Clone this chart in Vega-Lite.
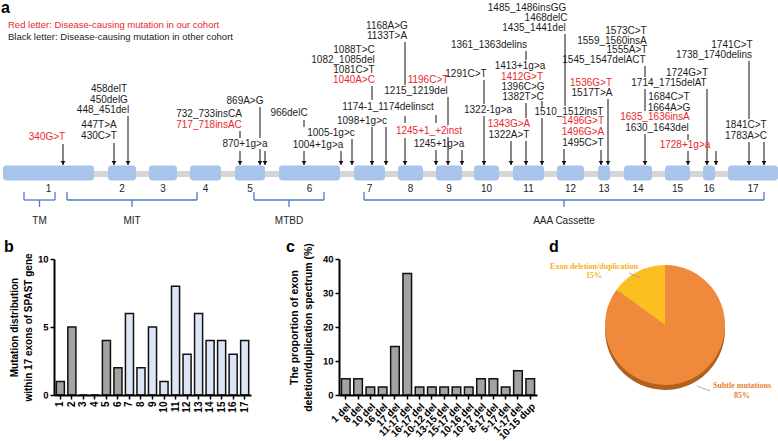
{
  "$schema": "https://vega.github.io/schema/vega-lite/v6.json",
  "padding": 0,
  "background": "white",
  "spacing": 4,
  "bounds": "flush",
  "config": {
    "view": {"stroke": null},
    "font": "Liberation Sans"
  },
  "datasets": {
    "backbone": [{"from": 2, "to": 777}],
    "exons": [
      {"exon": "1", "start": 2, "end": 93, "mid": 47.5},
      {"exon": "2", "start": 107, "end": 135, "mid": 121},
      {"exon": "3", "start": 148, "end": 176, "mid": 162},
      {"exon": "4", "start": 189, "end": 220, "mid": 204.5},
      {"exon": "5", "start": 234, "end": 264, "mid": 249},
      {"exon": "6", "start": 278, "end": 339, "mid": 308.5},
      {"exon": "7", "start": 353, "end": 384, "mid": 368.5},
      {"exon": "8", "start": 397, "end": 422, "mid": 409.5},
      {"exon": "9", "start": 435, "end": 461, "mid": 448},
      {"exon": "10", "start": 473, "end": 498, "mid": 485.5},
      {"exon": "11", "start": 512, "end": 543, "mid": 527.5},
      {"exon": "12", "start": 556, "end": 583, "mid": 569.5},
      {"exon": "13", "start": 597, "end": 609, "mid": 603},
      {"exon": "14", "start": 623, "end": 651, "mid": 637},
      {"exon": "15", "start": 664, "end": 689, "mid": 676.5},
      {"exon": "16", "start": 702, "end": 714, "mid": 708},
      {"exon": "17", "start": 727, "end": 777, "mid": 752}
    ],
    "braces": [
      {"domain": "TM", "start": 23, "end": 54, "mid": 38.5},
      {"domain": "MIT", "start": 66, "end": 196, "mid": 131},
      {"domain": "MTBD", "start": 253, "end": 323, "mid": 288},
      {"domain": "AAA Cassette", "start": 363, "end": 763, "mid": 563}
    ],
    "muts": [
      {"label": "340G>T", "pos": 46, "level": 134, "cohort": "ours"},
      {"label": "458delT", "pos": 108, "level": 86, "cohort": "other"},
      {"label": "450delG", "pos": 108, "level": 97, "cohort": "other"},
      {"label": "448_451del", "pos": 102, "level": 107, "cohort": "other"},
      {"label": "447T>A", "pos": 98, "level": 122, "cohort": "other"},
      {"label": "430C>T", "pos": 98, "level": 133, "cohort": "other"},
      {"label": "869A>G", "pos": 244, "level": 98, "cohort": "other"},
      {"label": "732_733insCA", "pos": 208, "level": 111, "cohort": "other"},
      {"label": "717_718insAC", "pos": 208, "level": 122, "cohort": "ours"},
      {"label": "870+1g>a", "pos": 244, "level": 141, "cohort": "other"},
      {"label": "966delC", "pos": 288, "level": 110, "cohort": "other"},
      {"label": "1005-1g>c", "pos": 330, "level": 130, "cohort": "other"},
      {"label": "1004+1g>a", "pos": 317, "level": 142, "cohort": "other"},
      {"label": "1088T>C", "pos": 353, "level": 47, "cohort": "other"},
      {"label": "1082_1085del", "pos": 342, "level": 57, "cohort": "other"},
      {"label": "1081C>T", "pos": 353, "level": 67, "cohort": "other"},
      {"label": "1040A>C", "pos": 353, "level": 77, "cohort": "ours"},
      {"label": "1174-1_1174delinsct", "pos": 387, "level": 104, "cohort": "other"},
      {"label": "1098+1g>c", "pos": 361, "level": 118, "cohort": "other"},
      {"label": "1168A>G", "pos": 386, "level": 23, "cohort": "other"},
      {"label": "1133T>A", "pos": 386, "level": 33, "cohort": "other"},
      {"label": "1196C>T", "pos": 427, "level": 77, "cohort": "ours"},
      {"label": "1215_1219del", "pos": 415, "level": 88, "cohort": "other"},
      {"label": "1245+1_+2inst", "pos": 428, "level": 128, "cohort": "ours"},
      {"label": "1245+1g>a", "pos": 438, "level": 141, "cohort": "other"},
      {"label": "1361_1363delins", "pos": 488, "level": 42, "cohort": "other"},
      {"label": "1291C>T", "pos": 465, "level": 71, "cohort": "other"},
      {"label": "1322-1g>a", "pos": 487, "level": 107, "cohort": "other"},
      {"label": "1413+1g>a", "pos": 519, "level": 63, "cohort": "other"},
      {"label": "1412G>T", "pos": 521, "level": 74, "cohort": "ours"},
      {"label": "1396C>G", "pos": 522, "level": 84, "cohort": "other"},
      {"label": "1382T>C", "pos": 522, "level": 94, "cohort": "other"},
      {"label": "1343G>A", "pos": 508, "level": 121, "cohort": "ours"},
      {"label": "1322A>T", "pos": 508, "level": 132, "cohort": "other"},
      {"label": "1485_1486insGG", "pos": 526, "level": 5, "cohort": "other"},
      {"label": "1468delC", "pos": 545, "level": 15, "cohort": "other"},
      {"label": "1435_1441del", "pos": 533, "level": 25, "cohort": "other"},
      {"label": "1510_1512insT", "pos": 568, "level": 109, "cohort": "other"},
      {"label": "1496G>T", "pos": 582, "level": 118, "cohort": "ours"},
      {"label": "1496G>A", "pos": 582, "level": 129, "cohort": "ours"},
      {"label": "1495C>T", "pos": 582, "level": 140, "cohort": "other"},
      {"label": "1536G>T", "pos": 590, "level": 80, "cohort": "ours"},
      {"label": "1517T>A", "pos": 591, "level": 90, "cohort": "other"},
      {"label": "1573C>T", "pos": 625, "level": 28, "cohort": "other"},
      {"label": "1559_1560insA", "pos": 611, "level": 38, "cohort": "other"},
      {"label": "1555A>T", "pos": 626, "level": 47, "cohort": "other"},
      {"label": "1545_1547delACT", "pos": 603, "level": 57, "cohort": "other"},
      {"label": "1724G>T", "pos": 686, "level": 70, "cohort": "other"},
      {"label": "1714_1715delAT", "pos": 668, "level": 80, "cohort": "other"},
      {"label": "1684C>T", "pos": 668, "level": 94, "cohort": "other"},
      {"label": "1664A>G", "pos": 668, "level": 105, "cohort": "other"},
      {"label": "1635_1636insA", "pos": 654, "level": 114, "cohort": "ours"},
      {"label": "1630_1643del", "pos": 656, "level": 125, "cohort": "other"},
      {"label": "1728+1g>a", "pos": 684, "level": 142, "cohort": "ours"},
      {"label": "1741C>T", "pos": 731, "level": 42, "cohort": "other"},
      {"label": "1738_1740delins", "pos": 713, "level": 52, "cohort": "other"},
      {"label": "1841C>T", "pos": 745, "level": 122, "cohort": "other"},
      {"label": "1783A>C", "pos": 745, "level": 133, "cohort": "other"}
    ],
    "lines": [
      {"pos": 62, "top": 141, "bottom": 162, "arrow": true},
      {"pos": 113, "top": 140, "bottom": 162, "arrow": true},
      {"pos": 127, "top": 113, "bottom": 162, "arrow": true},
      {"pos": 239, "top": 128, "bottom": 135, "arrow": false},
      {"pos": 239, "top": 148, "bottom": 162, "arrow": true},
      {"pos": 259, "top": 104, "bottom": 135, "arrow": false},
      {"pos": 259, "top": 146, "bottom": 162, "arrow": true},
      {"pos": 264, "top": 148, "bottom": 162, "arrow": true},
      {"pos": 303, "top": 117, "bottom": 124, "arrow": false},
      {"pos": 303, "top": 148, "bottom": 162, "arrow": true},
      {"pos": 340, "top": 148, "bottom": 162, "arrow": true},
      {"pos": 351, "top": 136, "bottom": 162, "arrow": true},
      {"pos": 371, "top": 83, "bottom": 97, "arrow": false},
      {"pos": 371, "top": 124, "bottom": 162, "arrow": true},
      {"pos": 385, "top": 124, "bottom": 162, "arrow": true},
      {"pos": 404, "top": 39, "bottom": 82, "arrow": false},
      {"pos": 404, "top": 113, "bottom": 120, "arrow": false},
      {"pos": 404, "top": 135, "bottom": 162, "arrow": true},
      {"pos": 435, "top": 112, "bottom": 120, "arrow": false},
      {"pos": 435, "top": 147, "bottom": 162, "arrow": true},
      {"pos": 447, "top": 94, "bottom": 122, "arrow": false},
      {"pos": 447, "top": 134, "bottom": 162, "arrow": true},
      {"pos": 461, "top": 147, "bottom": 162, "arrow": true},
      {"pos": 483, "top": 77, "bottom": 101, "arrow": false},
      {"pos": 483, "top": 113, "bottom": 162, "arrow": true},
      {"pos": 525, "top": 48, "bottom": 57, "arrow": false},
      {"pos": 525, "top": 100, "bottom": 115, "arrow": false},
      {"pos": 525, "top": 138, "bottom": 162, "arrow": true},
      {"pos": 510, "top": 138, "bottom": 162, "arrow": true},
      {"pos": 541, "top": 98, "bottom": 104, "arrow": false},
      {"pos": 541, "top": 115, "bottom": 162, "arrow": true},
      {"pos": 564, "top": 31, "bottom": 103, "arrow": false},
      {"pos": 563, "top": 146, "bottom": 162, "arrow": true},
      {"pos": 600, "top": 147, "bottom": 162, "arrow": true},
      {"pos": 607, "top": 96, "bottom": 162, "arrow": true},
      {"pos": 644, "top": 63, "bottom": 74, "arrow": false},
      {"pos": 644, "top": 86, "bottom": 108, "arrow": false},
      {"pos": 644, "top": 131, "bottom": 162, "arrow": true},
      {"pos": 687, "top": 131, "bottom": 137, "arrow": false},
      {"pos": 687, "top": 148, "bottom": 162, "arrow": true},
      {"pos": 706, "top": 86, "bottom": 162, "arrow": true},
      {"pos": 715, "top": 148, "bottom": 162, "arrow": true},
      {"pos": 748, "top": 58, "bottom": 116, "arrow": false},
      {"pos": 748, "top": 139, "bottom": 162, "arrow": true},
      {"pos": 763, "top": 139, "bottom": 162, "arrow": true}
    ],
    "notes": [
      {"label": "Red letter: Disease-causing mutation in our cohort", "pos": 7, "level": 22, "cohort": "ours"},
      {"label": "Black letter: Disease-causing mutation in other cohort", "pos": 7, "level": 34, "cohort": "other"}
    ],
    "letters": [
      {"letter": "a", "pos": 0, "level": 10},
      {"letter": "b", "pos": 3, "level": 249},
      {"letter": "c", "pos": 285, "level": 249},
      {"letter": "d", "pos": 548, "level": 249}
    ],
    "exonCounts": [
      {"exon": "1", "count": 1, "region": "N-terminal"},
      {"exon": "2", "count": 5, "region": "N-terminal"},
      {"exon": "3", "count": 0, "region": "N-terminal"},
      {"exon": "4", "count": 0, "region": "N-terminal"},
      {"exon": "5", "count": 4, "region": "N-terminal"},
      {"exon": "6", "count": 2, "region": "N-terminal"},
      {"exon": "7", "count": 6, "region": "AAA"},
      {"exon": "8", "count": 2, "region": "AAA"},
      {"exon": "9", "count": 5, "region": "AAA"},
      {"exon": "10", "count": 1, "region": "AAA"},
      {"exon": "11", "count": 8, "region": "AAA"},
      {"exon": "12", "count": 3, "region": "AAA"},
      {"exon": "13", "count": 6, "region": "AAA"},
      {"exon": "14", "count": 4, "region": "AAA"},
      {"exon": "15", "count": 4, "region": "AAA"},
      {"exon": "16", "count": 3, "region": "AAA"},
      {"exon": "17", "count": 4, "region": "AAA"}
    ],
    "cnv": [
      {"type": "1 del", "pct": 4.76},
      {"type": "8 del", "pct": 4.76},
      {"type": "10 del", "pct": 2.38},
      {"type": "16 del", "pct": 2.38},
      {"type": "17 del", "pct": 14.29},
      {"type": "11-17 del", "pct": 35.71},
      {"type": "16-17 del", "pct": 2.38},
      {"type": "10-12 del", "pct": 2.38},
      {"type": "13-15 del", "pct": 2.38},
      {"type": "15-17 del", "pct": 2.38},
      {"type": "10-16 del", "pct": 2.38},
      {"type": "10-17 del", "pct": 4.76},
      {"type": "8-17 del", "pct": 4.76},
      {"type": "5-17 del", "pct": 2.38},
      {"type": "1-17 del", "pct": 7.14},
      {"type": "10-15 dup", "pct": 4.76}
    ],
    "pie": [
      {"cat": "Subtle mutations", "pct": 85, "ord": 1},
      {"cat": "Exon deletion/duplication", "pct": 15, "ord": 2}
    ],
    "pieLabels": [
      {"label": "Exon deletion/duplication", "px": -71, "py": 58, "cat": "Exon deletion/duplication"},
      {"label": "15%", "px": -71, "py": 49, "cat": "Exon deletion/duplication"},
      {"label": "Subtle mutations", "px": 77, "py": -61, "cat": "Subtle mutations"},
      {"label": "85%", "px": 77, "py": -71, "cat": "Subtle mutations"}
    ],
    "leaders": [
      {"x1": -36, "y1": 52, "x2": -25, "y2": 47},
      {"x1": 32, "y1": -61, "x2": 45, "y2": -66}
    ]
  },
  "vconcat": [
    {
      "width": 725,
      "height": 252,
      "layer": [
        {
          "data": {"name": "backbone"},
          "mark": {"type": "rule", "strokeWidth": 6, "color": "#d5d5d5"},
          "encoding": {
            "x": {"field": "from", "type": "quantitative", "scale": {"domain": [53, 778], "nice": false, "zero": false}, "axis": null},
            "x2": {"field": "to"},
            "y": {"datum": 171, "type": "quantitative", "scale": {"domain": [0, 252], "nice": false, "zero": false, "reverse": true}, "axis": null}
          }
        },
        {
          "data": {"name": "exons"},
          "mark": {"type": "rect", "color": "#a9c4ea", "cornerRadius": 3},
          "encoding": {
            "x": {"field": "start", "type": "quantitative", "scale": {"domain": [53, 778], "nice": false, "zero": false}, "axis": null},
            "x2": {"field": "end"},
            "y": {"datum": 162.5, "type": "quantitative", "scale": {"domain": [0, 252], "nice": false, "zero": false, "reverse": true}, "axis": null},
            "y2": {"datum": 177.5}
          }
        },
        {
          "data": {"name": "exons"},
          "mark": {"type": "text", "fontSize": 10, "color": "#222", "baseline": "middle"},
          "encoding": {
            "x": {"field": "mid", "type": "quantitative", "scale": {"domain": [53, 778], "nice": false, "zero": false}, "axis": null},
            "y": {"datum": 186, "type": "quantitative", "scale": {"domain": [0, 252], "nice": false, "zero": false, "reverse": true}, "axis": null},
            "text": {"field": "exon"}
          }
        },
        {
          "data": {"name": "lines"},
          "mark": {"type": "rule", "strokeWidth": 1, "color": "#111"},
          "encoding": {
            "x": {"field": "pos", "type": "quantitative", "scale": {"domain": [53, 778], "nice": false, "zero": false}, "axis": null},
            "y": {"field": "top", "type": "quantitative", "scale": {"domain": [0, 252], "nice": false, "zero": false, "reverse": true}, "axis": null},
            "y2": {"field": "bottom"}
          }
        },
        {
          "data": {"name": "lines"},
          "transform": [{"filter": "datum.arrow"}],
          "mark": {"type": "point", "shape": "triangle-down", "filled": true, "size": 22, "color": "#111", "opacity": 1},
          "encoding": {
            "x": {"field": "pos", "type": "quantitative", "scale": {"domain": [53, 778], "nice": false, "zero": false}, "axis": null},
            "y": {"datum": 160, "type": "quantitative", "scale": {"domain": [0, 252], "nice": false, "zero": false, "reverse": true}, "axis": null}
          }
        },
        {
          "data": {"name": "muts"},
          "mark": {"type": "text", "fontSize": 10, "baseline": "middle", "align": "center"},
          "encoding": {
            "x": {"field": "pos", "type": "quantitative", "scale": {"domain": [53, 778], "nice": false, "zero": false}, "axis": null},
            "y": {"field": "level", "type": "quantitative", "scale": {"domain": [0, 252], "nice": false, "zero": false, "reverse": true}, "axis": null},
            "text": {"field": "label"},
            "color": {"field": "cohort", "type": "nominal", "scale": {"domain": ["ours", "other"], "range": ["#e8262d", "#1c1c1c"]}, "legend": null}
          }
        },
        {
          "data": {"name": "notes"},
          "mark": {"type": "text", "fontSize": 9.5, "baseline": "middle", "align": "left"},
          "encoding": {
            "x": {"field": "pos", "type": "quantitative", "scale": {"domain": [53, 778], "nice": false, "zero": false}, "axis": null},
            "y": {"field": "level", "type": "quantitative", "scale": {"domain": [0, 252], "nice": false, "zero": false, "reverse": true}, "axis": null},
            "text": {"field": "label"},
            "color": {"field": "cohort", "type": "nominal", "scale": {"domain": ["ours", "other"], "range": ["#e8262d", "#1c1c1c"]}, "legend": null}
          }
        },
        {
          "data": {"name": "letters"},
          "mark": {"type": "text", "fontSize": 16, "fontWeight": "bold", "baseline": "alphabetic", "align": "left", "color": "#000"},
          "encoding": {
            "x": {"field": "pos", "type": "quantitative", "scale": {"domain": [53, 778], "nice": false, "zero": false}, "axis": null},
            "y": {"field": "level", "type": "quantitative", "scale": {"domain": [0, 252], "nice": false, "zero": false, "reverse": true}, "axis": null},
            "text": {"field": "letter"}
          }
        },
        {
          "data": {"name": "braces"},
          "mark": {"type": "rule", "strokeWidth": 1.3, "color": "#4a7cc7"},
          "encoding": {
            "x": {"field": "start", "type": "quantitative", "scale": {"domain": [53, 778], "nice": false, "zero": false}, "axis": null},
            "y": {"datum": 189, "type": "quantitative", "scale": {"domain": [0, 252], "nice": false, "zero": false, "reverse": true}, "axis": null},
            "y2": {"datum": 197}
          }
        },
        {
          "data": {"name": "braces"},
          "mark": {"type": "rule", "strokeWidth": 1.3, "color": "#4a7cc7"},
          "encoding": {
            "x": {"field": "end", "type": "quantitative", "scale": {"domain": [53, 778], "nice": false, "zero": false}, "axis": null},
            "y": {"datum": 189, "type": "quantitative", "scale": {"domain": [0, 252], "nice": false, "zero": false, "reverse": true}, "axis": null},
            "y2": {"datum": 197}
          }
        },
        {
          "data": {"name": "braces"},
          "mark": {"type": "rule", "strokeWidth": 1.3, "color": "#4a7cc7"},
          "encoding": {
            "x": {"field": "start", "type": "quantitative", "scale": {"domain": [53, 778], "nice": false, "zero": false}, "axis": null},
            "x2": {"field": "end"},
            "y": {"datum": 197, "type": "quantitative", "scale": {"domain": [0, 252], "nice": false, "zero": false, "reverse": true}, "axis": null}
          }
        },
        {
          "data": {"name": "braces"},
          "mark": {"type": "rule", "strokeWidth": 1.3, "color": "#4a7cc7"},
          "encoding": {
            "x": {"field": "mid", "type": "quantitative", "scale": {"domain": [53, 778], "nice": false, "zero": false}, "axis": null},
            "y": {"datum": 197, "type": "quantitative", "scale": {"domain": [0, 252], "nice": false, "zero": false, "reverse": true}, "axis": null},
            "y2": {"datum": 204}
          }
        },
        {
          "data": {"name": "braces"},
          "mark": {"type": "text", "fontSize": 10, "color": "#222", "baseline": "middle"},
          "encoding": {
            "x": {"field": "mid", "type": "quantitative", "scale": {"domain": [53, 778], "nice": false, "zero": false}, "axis": null},
            "y": {"datum": 218, "type": "quantitative", "scale": {"domain": [0, 252], "nice": false, "zero": false, "reverse": true}, "axis": null},
            "text": {"field": "domain"}
          }
        }
      ]
    },
    {
      "spacing": 38,
      "hconcat": [
        {
          "width": 197,
          "height": 136,
          "data": {"name": "exonCounts"},
          "mark": {"type": "bar", "stroke": "#111", "strokeWidth": 1.5},
          "encoding": {
            "x": {"field": "exon", "type": "ordinal", "sort": null, "scale": {"paddingInner": 0.3, "paddingOuter": 0.2}, "axis": {"title": null, "labelAngle": -90, "labelFontSize": 10, "labelFont": "Liberation Sans", "labelFontWeight": "bold", "labelColor": "black", "labelPadding": 2, "domain": true, "domainColor": "black", "domainWidth": 2, "ticks": true, "tickColor": "black", "tickWidth": 1.5, "tickSize": 4, "grid": false, "zindex": 1}},
            "y": {"field": "count", "type": "quantitative", "scale": {"domain": [0, 10], "nice": false}, "axis": {"tickCount": 2, "labels": true, "labelAngle": 0.1, "labelFontSize": 9.5, "labelFont": "Liberation Sans", "labelFontWeight": "bold", "labelColor": "black", "labelPadding": 2, "labelOverlap": false, "domain": true, "domainColor": "black", "domainWidth": 2, "ticks": true, "tickColor": "black", "tickWidth": 1.5, "tickSize": 4, "grid": false, "zindex": 1, "title": ["Mutation distribution", "within 17 exons of SPAST gene"], "titleFont": "Liberation Sans", "titleFontWeight": "bold", "titleColor": "black", "titleFontSize": 10, "titleLineHeight": 14, "titlePadding": 4}},
            "fill": {"field": "region", "type": "nominal", "scale": {"domain": ["N-terminal", "AAA"], "range": ["#a3a3a3", "#dbe5f6"]}, "legend": null}
          }
        },
        {
          "spacing": 13,
          "hconcat": [
            {
              "width": 198,
              "height": 136,
              "data": {"name": "cnv"},
              "mark": {"type": "bar", "stroke": "#111", "strokeWidth": 1.5, "color": "#a3a3a3"},
              "encoding": {
                "x": {"field": "type", "type": "ordinal", "sort": null, "scale": {"paddingInner": 0.3, "paddingOuter": 0.2}, "axis": {"title": null, "labelAngle": -45, "labelFontSize": 10, "labelFont": "Liberation Sans", "labelFontWeight": "bold", "labelColor": "black", "labelPadding": 2, "domain": true, "domainColor": "black", "domainWidth": 2, "ticks": true, "tickColor": "black", "tickWidth": 1.5, "tickSize": 4, "grid": false, "zindex": 1}},
                "y": {"field": "pct", "type": "quantitative", "scale": {"domain": [0, 40], "nice": false}, "axis": {"tickCount": 4, "labels": true, "labelAngle": 0.1, "labelFontSize": 9.5, "labelFont": "Liberation Sans", "labelFontWeight": "bold", "labelColor": "black", "labelPadding": 2, "labelOverlap": false, "domain": true, "domainColor": "black", "domainWidth": 2, "ticks": true, "tickColor": "black", "tickWidth": 1.5, "tickSize": 4, "grid": false, "zindex": 1, "title": ["The proportion of exon", "deletion/duplication spectrum (%)"], "titleFont": "Liberation Sans", "titleFontWeight": "bold", "titleColor": "black", "titleFontSize": 10.5, "titleLineHeight": 14, "titlePadding": 9}}
              }
            },
            {
              "width": 228,
              "height": 132,
              "layer": [
                {
                  "data": {"name": "pie"},
                  "mark": {"type": "arc", "outerRadius": 60, "color": "#b0601f"},
                  "encoding": {
                    "y": {"datum": -5, "type": "quantitative", "scale": {"domain": [-66, 66], "nice": false, "zero": false}, "axis": null},
                    "theta": {"field": "pct", "type": "quantitative", "stack": true},
                    "order": {"field": "ord"}
                  }
                },
                {
                  "data": {"name": "pie"},
                  "mark": {"type": "arc", "outerRadius": 60},
                  "encoding": {
                    "theta": {"field": "pct", "type": "quantitative", "stack": true},
                    "order": {"field": "ord"},
                    "color": {"field": "cat", "type": "nominal", "scale": {"domain": ["Subtle mutations", "Exon deletion/duplication"], "range": ["#ef8a3d", "#fbbf22"]}, "legend": null}
                  }
                },
                {
                  "data": {"name": "leaders"},
                  "mark": {"type": "rule", "strokeWidth": 0.8, "color": "#999"},
                  "encoding": {
                    "x": {"field": "x1", "type": "quantitative", "scale": {"domain": [-114, 114], "nice": false, "zero": false}, "axis": null},
                    "y": {"field": "y1", "type": "quantitative", "scale": {"domain": [-66, 66], "nice": false, "zero": false}, "axis": null},
                    "x2": {"field": "x2"},
                    "y2": {"field": "y2"}
                  }
                },
                {
                  "data": {"name": "pieLabels"},
                  "mark": {"type": "text", "font": "Liberation Serif", "fontWeight": "bold", "fontSize": 8, "baseline": "middle"},
                  "encoding": {
                    "x": {"field": "px", "type": "quantitative", "scale": {"domain": [-114, 114], "nice": false, "zero": false}, "axis": null},
                    "y": {"field": "py", "type": "quantitative", "scale": {"domain": [-66, 66], "nice": false, "zero": false}, "axis": null},
                    "text": {"field": "label"},
                    "color": {"field": "cat", "type": "nominal", "scale": {"domain": ["Subtle mutations", "Exon deletion/duplication"], "range": ["#e97f32", "#f2b11c"]}, "legend": null}
                  }
                }
              ],
              "resolve": {"scale": {"color": "independent"}}
            }
          ]
        }
      ]
    }
  ]
}
